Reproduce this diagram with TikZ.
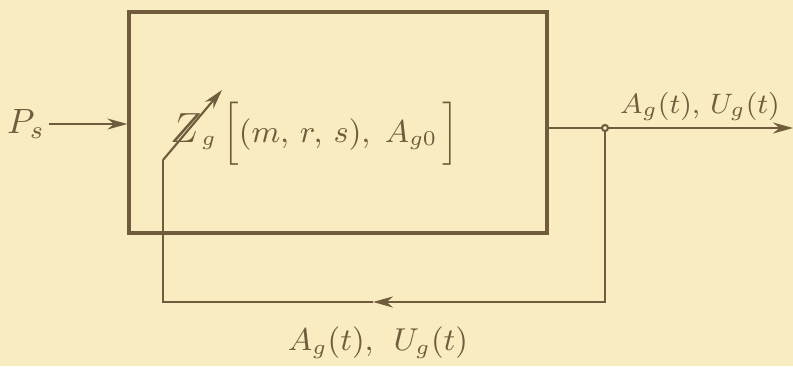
\documentclass[tikz,border=0pt]{standalone}
\usetikzlibrary{arrows.meta}

\definecolor{paper}{RGB}{248,236,192}
\definecolor{ink}{RGB}{112,92,60}

\begin{document}
\begin{tikzpicture}[
    x=0.1mm, y=-0.1mm,
    font=\fontsize{9}{11}\selectfont,
    every node/.style={text=ink},
    wire/.style={draw=ink, line width=0.6pt},
    flow/.style={wire, -{Stealth[length=2mm, width=1.1mm]}},
    plantbox/.style={draw=ink, line width=0.9pt, minimum width=41.8mm, minimum height=22.1mm,
                     inner sep=0pt},
    sig/.style={inner sep=1pt},
]

% paper
\fill[paper] (0,0) rectangle (793,366);
\useasboundingbox (0,0) rectangle (793,366);

% =====================  PLANT  =====================
\node[plantbox] (plant) at (338,122.5) {};
\node[sig, anchor=base west] (law) at (166,142)
  {$\mbox{\fontsize{13}{15}\selectfont$Z$}_g\,\Bigl[(m,\,r,\,s),\; A_{g0}\,\Bigr]$};

% =====================  INPUT / OUTPUT  =====================
\node[sig, font=\fontsize{10}{12}\selectfont] (ps) at (26,124) {$P_s$};
\draw[flow] (ps) -- (ps -| plant.west);

\coordinate (tap) at (605,128);
\coordinate (out) at (793,128);
\draw[wire] (plant.east |- tap) -- (tap);
\draw[flow] (tap) -- (out);
\node[sig, anchor=base, font=\fontsize{8.5}{10}\selectfont] (outlbl) at (700,113) {$A_g(t),\,U_g(t)$};

% =====================  FEEDBACK  =====================
\coordinate (fbmid) at (373,302);
\coordinate (fbleft) at (163,302);
\coordinate (knee) at (163,160);
\coordinate (tip) at (222,90);

\draw[flow] (tap) |- (fbmid);
\draw[wire] (fbmid) -- (fbleft) -- (knee);
\draw[flow] (knee) -- (tip);
\draw[wire, fill=paper] (tap) circle (3);

\node[sig] (fblbl) at (378,343) {$A_g(t),\;\,U_g(t)$};

\end{tikzpicture}
\end{document}
